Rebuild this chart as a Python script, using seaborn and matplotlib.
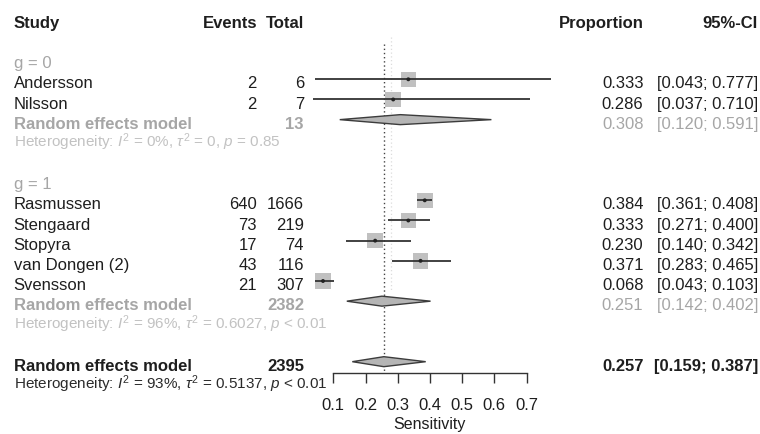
import numpy as np
import pandas as pd
import matplotlib
matplotlib.use("Agg")
import matplotlib.pyplot as plt
import seaborn as sns
from matplotlib.transforms import blended_transform_factory

# ---------------- data ----------------
studies = ["Andersson", "Nilsson", "Rasmussen", "Stengaard", "Stopyra",
           "van Dongen (2)", "Svensson"]
groups = [0, 0, 1, 1, 1, 1, 1]
events = [2, 2, 640, 73, 17, 43, 21]
totals = [6, 7, 1666, 219, 74, 116, 307]
prop = [0.333, 0.286, 0.384, 0.333, 0.230, 0.371, 0.068]
lower = [0.043, 0.037, 0.361, 0.271, 0.140, 0.283, 0.043]
upper = [0.777, 0.710, 0.408, 0.400, 0.342, 0.465, 0.103]

group_labels = ["g = 0", "g = 1"]
group_total = [13, 2382]
group_est = [0.308, 0.251]
group_lower = [0.120, 0.142]
group_upper = [0.591, 0.402]
group_het = [r"Heterogeneity: $I^2$ = 0%, $\tau^2$ = 0, $p$ = 0.85",
             r"Heterogeneity: $I^2$ = 96%, $\tau^2$ = 0.6027, $p$ < 0.01"]

overall_total = 2395
overall_est = 0.257
overall_lower = 0.159
overall_upper = 0.387
overall_het = r"Heterogeneity: $I^2$ = 93%, $\tau^2$ = 0.5137, $p$ < 0.01"

ghost_line_x = 0.279
xticks = [0.1, 0.2, 0.3, 0.4, 0.5, 0.6, 0.7]
xtick_labels = ["0.1", "0.2", "0.3", "0.4", "0.5", "0.6", "0.7"]

# ---------------- style ----------------
sns.set_theme(style="white")
plt.rcParams['font.family'] = ['Liberation Sans', 'DejaVu Sans']
plt.rcParams['mathtext.fontset'] = 'custom'
plt.rcParams['mathtext.rm'] = 'Liberation Sans'
plt.rcParams['mathtext.it'] = 'Liberation Sans:italic'
plt.rcParams['mathtext.bf'] = 'Liberation Sans:bold'

DARK = "#1e1e1e"
GRAY = "#a6a6a6"
LIGHT = "#c2c2c2"
BOX = "#c0c0c0"
LINE = "#333333"
FS = 12
FS_HET = 11

W, H = 760, 434
fig = plt.figure(figsize=(W / 100, H / 100), dpi=100)
fig.patch.set_facecolor("white")

ROW0, DY = 79.3, 20.17


def px2row(p):
    return (p - ROW0) / DY


X0PX, X1PX = 301.1, 558.7
ax = fig.add_axes([X0PX / W, 0, (X1PX - X0PX) / W, 1])

# ---------------- layout rows ----------------
rows = []
r = 0
group_rows = {}
for g in range(len(group_labels)):
    group_rows[g] = {"label": r - 1}
    for i, gi in enumerate(groups):
        if gi == g:
            rows.append((i, r))
            r += 1
    group_rows[g]["pooled"] = r
    group_rows[g]["het"] = r + 1
    r += 4
study_row = [0] * len(studies)
for i, rr in rows:
    study_row[i] = rr
overall_row = group_rows[len(group_labels) - 1]["het"] + 2
overall_het_row = overall_row + 1
header_row = -3

df = pd.DataFrame({"study": studies, "group": groups, "events": events,
                   "total": totals, "prop": prop, "lower": lower,
                   "upper": upper, "row": study_row})

# ---------------- marks ----------------
sns.scatterplot(data=df, x="prop", y="row", marker="s", s=125, color=BOX,
                edgecolor="none", ax=ax, legend=False, zorder=2)
ax.hlines(df["row"], df["lower"], df["upper"], color=LINE, lw=1.3, zorder=3)
sns.scatterplot(data=df, x="prop", y="row", marker="o", s=8, color="#222222",
                edgecolor="none", ax=ax, legend=False, zorder=4)

h = 5.0 / DY
pooled = [(group_est[g], group_lower[g], group_upper[g], group_rows[g]["pooled"])
          for g in range(len(group_labels))]
pooled.append((overall_est, overall_lower, overall_upper, overall_row))
for est, lo, hi, rr in pooled:
    ax.fill([lo, est, hi, est], [rr, rr - h, rr, rr + h],
            facecolor="#b5b5b5", edgecolor="#3c3c3c", lw=1.0, zorder=3)

axis_px = 373.3
ax.vlines(overall_est, px2row(44), px2row(axis_px), colors="#444444",
          linestyles=(0, (1, 2)), lw=1.0, zorder=1)
ax.vlines(ghost_line_x, px2row(37), px2row(292), colors="#dcdcdc",
          linestyles=(0, (1, 2)), lw=0.9, zorder=0)

ax.set_xlim(0, 0.8)
ax.set_ylim(px2row(H), px2row(0))
ax.axis("off")

# ---------------- x axis ----------------
ax2 = fig.add_axes([X0PX / W, (H - axis_px) / H, (X1PX - X0PX) / W, 0.0001])
ax2.set_xlim(0, 0.8)
ax2.patch.set_visible(False)
for s in ["top", "left", "right"]:
    ax2.spines[s].set_visible(False)
ax2.spines["bottom"].set_bounds(xticks[0], xticks[-1])
ax2.spines["bottom"].set_color(LINE)
ax2.spines["bottom"].set_linewidth(1.0)
ax2.set_yticks([])
ax2.set_xticks(xticks)
ax2.set_xticklabels(xtick_labels)
ax2.tick_params(axis="x", direction="out", length=7.2, width=1.0, color=LINE,
                labelsize=FS, labelcolor=DARK, pad=10.5, bottom=True)
ax2.set_xlabel("Sensitivity", fontsize=11.5, color=DARK, labelpad=3)

# ---------------- text columns ----------------
tr = blended_transform_factory(fig.transFigure, ax.transData)
OFF = 0.45       # baseline offset (rows) for 12pt text
OFF_HET = 0.36   # baseline offset for heterogeneity text

X_STUDY, X_EV, X_TOT, X_PROP, X_CI = 13.5, 257.0, 304.0, 643.5, 758.0


def txt(xpx, row, s, ha="left", color=DARK, weight="normal", size=FS, off=OFF):
    ax.text(xpx / W, row + off, s, transform=tr, ha=ha, va="baseline",
            color=color, fontweight=weight, fontsize=size, clip_on=False)


# header
txt(X_STUDY + 0.5, header_row, "Study", weight="bold")
txt(X_EV, header_row, "Events", ha="right", weight="bold")
txt(X_TOT, header_row, "Total", ha="right", weight="bold")
txt(X_PROP, header_row, "Proportion", ha="right", weight="bold")
txt(X_CI, header_row, "95%-CI", ha="right", weight="bold")

for _, rw in df.iterrows():
    txt(X_STUDY, rw["row"], rw["study"])
    txt(X_EV, rw["row"], str(rw["events"]), ha="right")
    txt(X_TOT, rw["row"], str(rw["total"]), ha="right")
    txt(X_PROP, rw["row"], f"{rw['prop']:.3f}", ha="right")
    txt(X_CI, rw["row"], f"[{rw['lower']:.3f}; {rw['upper']:.3f}]", ha="right")

for g in range(len(group_labels)):
    gr = group_rows[g]
    txt(X_STUDY, gr["label"], group_labels[g], color=GRAY)
    txt(X_STUDY, gr["pooled"], "Random effects model", color=GRAY, weight="bold")
    txt(X_TOT, gr["pooled"], str(group_total[g]), ha="right", color=GRAY, weight="bold")
    txt(X_PROP, gr["pooled"], f"{group_est[g]:.3f}", ha="right", color=GRAY)
    txt(X_CI, gr["pooled"], f"[{group_lower[g]:.3f}; {group_upper[g]:.3f}]",
        ha="right", color=GRAY)
    txt(X_STUDY, gr["het"], group_het[g], color=LIGHT, size=FS_HET, off=OFF_HET)

txt(X_STUDY, overall_row, "Random effects model", weight="bold")
txt(X_TOT, overall_row, str(overall_total), ha="right", weight="bold")
txt(X_PROP, overall_row, f"{overall_est:.3f}", ha="right", weight="bold")
txt(X_CI, overall_row, f"[{overall_lower:.3f}; {overall_upper:.3f}]",
    ha="right", weight="bold")
txt(X_STUDY, overall_het_row, overall_het, color="#2a2a2a", size=FS_HET, off=OFF_HET)

fig.savefig("out.png", dpi=100, facecolor="white")
